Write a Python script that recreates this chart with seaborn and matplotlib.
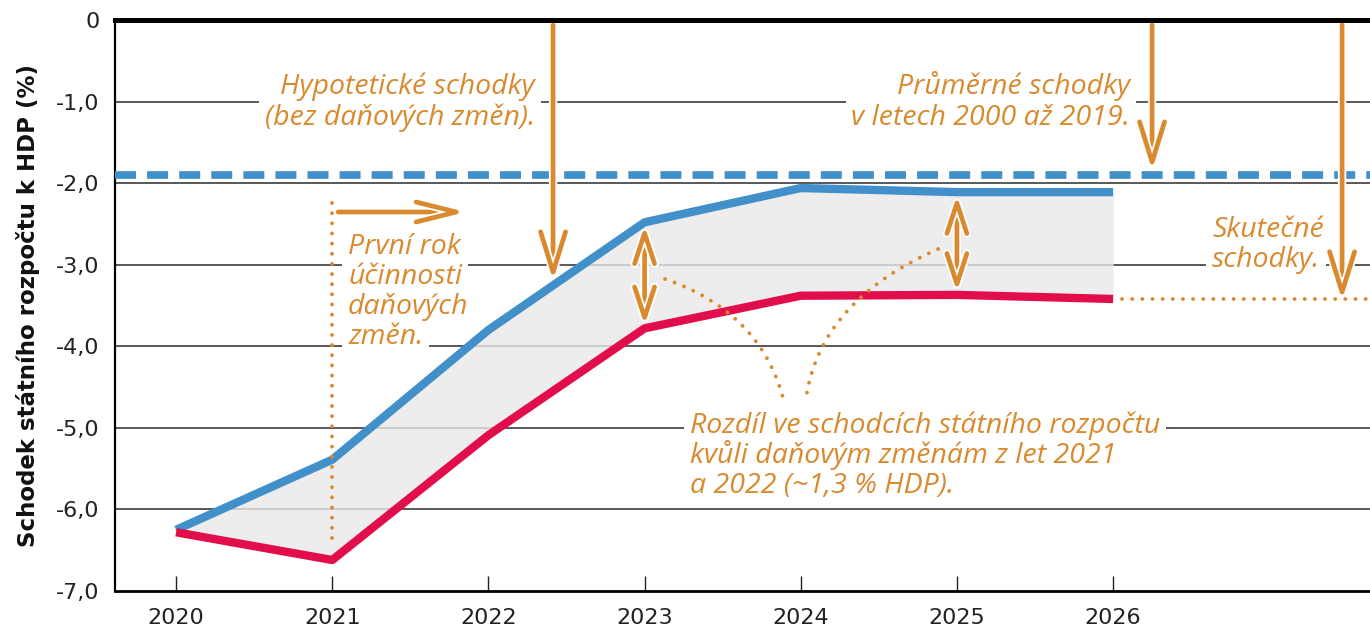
import matplotlib
matplotlib.use("Agg")
import matplotlib.pyplot as plt
import matplotlib.patheffects as pe
from matplotlib.patches import FancyArrowPatch, PathPatch
from matplotlib.path import Path
import numpy as np
import pandas as pd
import seaborn as sns

# ---------------- data ----------------
years = [2020, 2021, 2022, 2023, 2024, 2025, 2026]
hypothetical = [-6.25, -5.39, -3.80, -2.48, -2.06, -2.11, -2.11]   # blue
actual = [-6.28, -6.62, -5.09, -3.78, -3.38, -3.37, -3.42]         # red
average_2000_2019 = -1.9                                           # dashed blue
yticks = [0, -1, -2, -3, -4, -5, -6, -7]
ytick_labels = ["0", "-1,0", "-2,0", "-3,0", "-4,0", "-5,0", "-6,0", "-7,0"]
ylabel = "Schodek státního rozpočtu k HDP (%)"
txt_hyp = ["Hypotetické schodky", "(bez daňových změn)."]
txt_avg = ["Průměrné schodky", "v letech 2000 až 2019."]
txt_act = ["Skutečné", "schodky."]
txt_first = ["První rok", "účinnosti", "daňových", "změn."]
txt_diff = ["Rozdíl ve schodcích státního rozpočtu",
            "kvůli daňovým změnám z let 2021",
            "a 2022 (~1,3 % HDP)."]

BLUE = "#4190c9"
RED = "#e20e4c"
ORANGE = "#d98a2f"
FILL = "#e9e9e9"

W, H = 1370, 636
sns.set_theme(style="white")
plt.rcParams["font.family"] = ["DejaVu Sans"]

fig = plt.figure(figsize=(W / 100, H / 100), dpi=100)
ax = fig.add_axes([115 / W, 1 - 591 / H, (W - 115) / W, (591 - 20) / H])

XMIN, XMAX = 2019.609, 2027.645
ax.set_xlim(XMIN, XMAX)
ax.set_ylim(-7, 0)


def X(px):
    return 2020 + (px - 176) / 156.17


def Y(py):
    return -(py - 20) / 81.57


# grid lines
for yv in yticks[1:-1]:
    ax.axhline(yv, color="#2b2b2b", lw=1.1, zorder=0.5)

# fill between
ax.fill_between(years, hypothetical, actual, color=FILL, alpha=0.8, lw=0, zorder=1)

df = pd.DataFrame({"year": years, "hyp": hypothetical, "act": actual})
sns.lineplot(data=df, x="year", y="hyp", color=BLUE, lw=6, ax=ax, zorder=4,
             solid_capstyle="butt")
sns.lineplot(data=df, x="year", y="act", color=RED, lw=6, ax=ax, zorder=4,
             solid_capstyle="butt")

# average dashed line
ax.axhline(average_2000_2019, color=BLUE, lw=5.5, dashes=(2.75, 1.45), zorder=4,
           dash_capstyle="butt")

dot_kw = dict(color=ORANGE, lw=2.8, linestyle=(0, (0.01, 2.6)),
              dash_capstyle="round", zorder=5)
# dotted continuation of actual deficits
ax.plot([years[-1] + 0.06, XMAX], [actual[-1], actual[-1]], **dot_kw)
# dotted vertical at 2021
ax.plot([years[1], years[1]], [Y(203), Y(548)], **dot_kw)

# dotted curves (V)
for p0, c, p2 in [((X(665), Y(279)), (X(760), Y(312)), (X(783), Y(398))),
                  ((X(938), Y(249)), (X(820), Y(301)), (X(806), Y(398)))]:
    path = Path([p0, c, p2], [Path.MOVETO, Path.CURVE3, Path.CURVE3])
    pp = PathPatch(path, fill=False, edgecolor=ORANGE, lw=2.8,
                   linestyle=(0, (0.01, 2.6)), zorder=5)
    pp.set_capstyle("round")
    ax.add_patch(pp)

# arrows
halo = [pe.withStroke(linewidth=6, foreground="white")]


def arrow(p, q, style, ms=20):
    a = FancyArrowPatch(p, q, arrowstyle=style, mutation_scale=ms, lw=3.4,
                        color=ORANGE, shrinkA=0, shrinkB=0, zorder=6,
                        path_effects=halo, capstyle="round", joinstyle="round")
    ax.add_patch(a)


vstyle = "->,head_length=1.45,head_width=0.45"
arrow((X(553), Y(25)), (X(553), Y(280)), vstyle)
arrow((X(1152), Y(25)), (X(1152), Y(170)), vstyle)
arrow((X(1342), Y(25)), (X(1342), Y(300)), vstyle)
arrow((X(338), Y(212)), (X(466), Y(212)), "->,head_length=1.45,head_width=0.36")
dstyle = "<->,head_length=1.1,head_width=0.36"
arrow((years[3], hypothetical[3] - 0.04), (years[3], actual[3] + 0.04), dstyle)
arrow((years[5], hypothetical[5] - 0.04), (years[5], actual[5] + 0.04), dstyle)

# annotation texts (each line with its own white box under the gridlines' crossing)
TFS = 20.5
TFAM = ["Open Sans", "DejaVu Sans"]


def label(lines, x, baselines, ha):
    for s, b in zip(lines, baselines):
        ax.text(x, Y(b), s, ha=ha, va="baseline", fontsize=TFS, style="italic",
                family=TFAM, color="none", zorder=3,
                bbox=dict(facecolor="white", edgecolor="none", pad=4))
        ax.text(x, Y(b), s, ha=ha, va="baseline", fontsize=TFS, style="italic",
                family=TFAM, color=ORANGE, zorder=3.5)


label(txt_hyp, X(535), [94, 125], "right")
label(txt_avg, X(1130), [94, 125], "right")
label(txt_act, X(1212), [237, 267], "left")
label(txt_first, X(348), [254, 284, 314, 344], "left")
label(txt_diff, X(690), [433, 463, 493], "left")

# axes styling
ax.set_yticks(yticks)
ax.set_yticklabels(ytick_labels)
ax.set_xticks(years)
ax.set_xticklabels([str(y) for y in years])
ax.tick_params(axis="y", length=0, pad=11, labelsize=16, colors="#222222")
ax.tick_params(axis="x", direction="in", length=11, width=1.0, pad=12,
               labelsize=16, colors="#222222", bottom=True)
ax.set_xlabel("")
ax.set_ylabel(ylabel, fontsize=16.5, fontweight="bold", color="#111111")
ax.yaxis.set_label_coords(-0.0598, 0.5)

for side in ["left", "bottom", "top"]:
    ax.spines[side].set_visible(True)
    ax.spines[side].set_color("black")
ax.spines["top"].set_linewidth(3.6)
ax.spines["left"].set_linewidth(1.6)
ax.spines["bottom"].set_linewidth(2.0)
ax.spines["right"].set_visible(False)
ax.spines["top"].set_zorder(7)

fig.savefig("out.png", dpi=100)
